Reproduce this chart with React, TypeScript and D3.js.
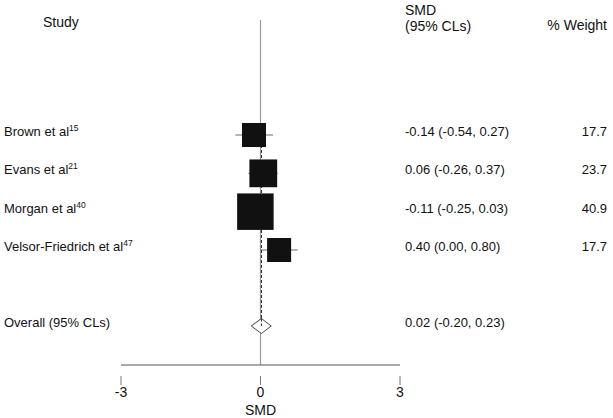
import React from "react";
import * as d3 from "d3";

const studies = ["Brown et al", "Evans et al", "Morgan et al", "Velsor-Friedrich et al"];
const refs = ["15", "21", "40", "47"];
const smd = [-0.14, 0.06, -0.11, 0.4];
const lower = [-0.54, -0.26, -0.25, 0.0];
const upper = [0.27, 0.37, 0.03, 0.8];
const weights = [17.7, 23.7, 40.9, 17.7];
const overallLabel = "Overall (95% CLs)";
const overallEst = 0.02;
const overallLo = -0.2;
const overallHi = 0.23;
const xTicks = [-3, 0, 3];

const W = 613;
const H = 418;
const FONT = "'Liberation Sans', Arial, Helvetica, sans-serif";

const fmt = (v: number) => v.toFixed(2).replace("−", "-");

export default function App() {
  const x = d3.scaleLinear().domain([-3, 3]).range([121, 400]);
  const y = d3.scaleLinear().domain([0, studies.length - 1]).range([135, 250]);
  const yOverall = 326;
  const size = d3.scaleSqrt().domain([0, 17.7]).range([0, 24]);
  const axisY = 365;

  const diamond = [
    [x(overallLo), yOverall],
    [x(overallEst), yOverall - 7.5],
    [x(overallHi), yOverall],
    [x(overallEst), yOverall + 7.5],
  ];

  return (
    <svg
      width={W}
      height={H}
      style={{ position: "absolute", left: 0, top: 0, background: "#fff" }}
      fontFamily={FONT}
    >
      <rect width={W} height={H} fill="#fff" />
      {/* headers */}
      <text x={43} y={27} fontSize={14} fill="#111">Study</text>
      <text x={405} y={15} fontSize={14} fill="#111">SMD</text>
      <text x={405} y={31} fontSize={14} fill="#111">(95% CLs)</text>
      <text x={607} y={30} fontSize={14} fill="#111" textAnchor="end">% Weight</text>

      {/* null line */}
      <line x1={x(0)} x2={x(0)} y1={20} y2={axisY} stroke="#9a9a9a" strokeWidth={1.2} />
      {/* overall dashed line */}
      <line
        x1={x(overallEst)}
        x2={x(overallEst)}
        y1={y(0) - 10}
        y2={yOverall}
        stroke="#222"
        strokeWidth={1}
        strokeDasharray="3,2"
      />

      {/* study rows */}
      {studies.map((s, i) => {
        const cy = y(i);
        const sz = size(weights[i]);
        return (
          <g key={s}>
            <line x1={x(lower[i])} x2={x(upper[i])} y1={cy} y2={cy} stroke="#444" strokeWidth={0.8} />
            <rect x={x(smd[i]) - sz / 2} y={cy - sz / 2} width={sz} height={sz} fill="#111" />
            <text x={4} y={cy + 1} fontSize={13} fill="#111">
              {s}
              <tspan fontSize={8.5} dy={-5}>{refs[i]}</tspan>
            </text>
            <text x={405} y={cy + 1} fontSize={13} fill="#111">
              {`${fmt(smd[i])} (${fmt(lower[i])}, ${fmt(upper[i])})`}
            </text>
            <text x={607} y={cy + 1} fontSize={13} fill="#111" textAnchor="end">
              {weights[i].toFixed(1)}
            </text>
          </g>
        );
      })}

      {/* overall */}
      <polygon points={diamond.map((p) => p.join(",")).join(" ")} fill="#fff" stroke="#333" strokeWidth={0.9} />
      <line
        x1={x(overallEst)}
        x2={x(overallEst)}
        y1={yOverall - 7.5}
        y2={yOverall}
        stroke="#222"
        strokeWidth={1}
        strokeDasharray="3,2"
      />
      <text x={4} y={yOverall + 1} fontSize={13} fill="#111">{overallLabel}</text>
      <text x={405} y={yOverall + 1} fontSize={13} fill="#111">
        {`${fmt(overallEst)} (${fmt(overallLo)}, ${fmt(overallHi)})`}
      </text>

      {/* axis */}
      <line x1={x(-3)} x2={x(3)} y1={axisY} y2={axisY} stroke="#555" strokeWidth={1.2} />
      {xTicks.map((t) => (
        <g key={t}>
          <line x1={x(t)} x2={x(t)} y1={376} y2={385} stroke="#777" strokeWidth={1} />
          <text x={x(t)} y={397} fontSize={14} fill="#111" textAnchor="middle">
            {String(t)}
          </text>
        </g>
      ))}
      <text x={x(0)} y={415} fontSize={14} fill="#111" textAnchor="middle">SMD</text>
    </svg>
  );
}
